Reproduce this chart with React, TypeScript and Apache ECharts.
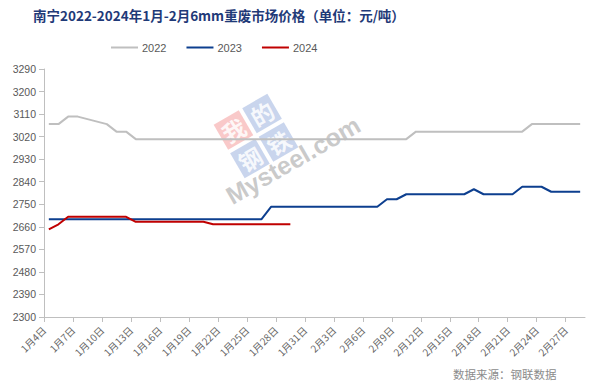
import React, { useEffect, useRef } from "react";
import * as echarts from "echarts";

const dates = [
  "1月4日", "1月5日", "1月6日", "1月7日", "1月8日", "1月9日", "1月10日", "1月11日", "1月12日", "1月13日",
  "1月14日", "1月15日", "1月16日", "1月17日", "1月18日", "1月19日", "1月20日", "1月21日", "1月22日", "1月23日",
  "1月24日", "1月25日", "1月26日", "1月27日", "1月28日", "1月29日", "1月30日", "1月31日",
  "2月1日", "2月2日", "2月3日", "2月4日", "2月5日", "2月6日", "2月7日", "2月8日", "2月9日", "2月10日",
  "2月11日", "2月12日", "2月13日", "2月14日", "2月15日", "2月16日", "2月17日", "2月18日", "2月19日", "2月20日",
  "2月21日", "2月22日", "2月23日", "2月24日", "2月25日", "2月26日", "2月27日", "2月28日",
];

const s2022 = [
  3070, 3070, 3100, 3100, 3090, 3080, 3070, 3040, 3040, 3010,
  3010, 3010, 3010, 3010, 3010, 3010, 3010, 3010, 3010, 3010,
  3010, 3010, 3010, 3010, 3010, 3010, 3010, 3010, 3010, 3010,
  3010, 3010, 3010, 3010, 3010, 3010, 3010, 3010, 3040, 3040,
  3040, 3040, 3040, 3040, 3040, 3040, 3040, 3040, 3040, 3040,
  3070, 3070, 3070, 3070, 3070, 3070,
];

const s2023 = [
  2690, 2690, 2690, 2690, 2690, 2690, 2690, 2690, 2690, 2690,
  2690, 2690, 2690, 2690, 2690, 2690, 2690, 2690, 2690, 2690,
  2690, 2690, 2690, 2740, 2740, 2740, 2740, 2740, 2740, 2740,
  2740, 2740, 2740, 2740, 2740, 2770, 2770, 2790, 2790, 2790,
  2790, 2790, 2790, 2790, 2810, 2790, 2790, 2790, 2790, 2820,
  2820, 2820, 2800, 2800, 2800, 2800,
];

const s2024 = [
  2650, 2670, 2700, 2700, 2700, 2700, 2700, 2700, 2700, 2680,
  2680, 2680, 2680, 2680, 2680, 2680, 2680, 2670, 2670, 2670,
  2670, 2670, 2670, 2670, 2670, 2670,
];

const yTicks = [2300, 2390, 2480, 2570, 2660, 2750, 2840, 2930, 3020, 3110, 3200, 3290];
const xTickIdx = [0, 3, 6, 9, 12, 15, 18, 21, 24, 27, 30, 33, 36, 39, 42, 45, 48, 51, 54];

const seriesNames = ["2022", "2023", "2024"];
const seriesColors = ["#bfbfbf", "#0d3f8f", "#c00000"];
const seriesData = [s2022, s2023, s2024];

export default function App() {
  const ref = useRef<HTMLDivElement>(null);
  useEffect(() => {
    document.body.style.margin = "0";
    if (!ref.current) return;
    const chart = echarts.init(ref.current, undefined, { renderer: "svg" });
    const axisGray = "#bfbfbf";
    const labelGray = "#595959";
    const font = "Liberation Sans, Arial, sans-serif";
    const wmText = (t: string, x: number, y: number) => ({
      type: "text",
      x,
      y,
      style: {
        text: t,
        fontSize: 23,
        fontWeight: "bold",
        fill: "rgba(255,255,255,0.85)",
        align: "center",
        verticalAlign: "middle",
        fontFamily: "Noto Sans CJK SC",
      },
    });
    chart.setOption({
      animation: false,
      backgroundColor: "#ffffff",
      title: {
        text: "南宁2022-2024年1月-2月6mm重废市场价格（单位：元/吨）",
        left: 28,
        top: 3,
        textStyle: {
          fontSize: 13.5,
          fontWeight: "bold",
          color: "#1f3a78",
          fontFamily: "Noto Sans CJK SC, sans-serif",
        },
      },
      legend: {
        left: 106,
        top: 37,
        itemWidth: 27,
        itemHeight: 2,
        itemGap: 20,
        icon: "rect",
        textStyle: { fontSize: 11, color: labelGray, fontFamily: font, padding: [0, 0, 0, -1] },
        data: seriesNames,
      },
      grid: { left: 44, right: 6, top: 69, bottom: 72 },
      xAxis: {
        type: "value",
        min: 0,
        max: 56,
        axisLine: { show: true, lineStyle: { color: axisGray } },
        axisTick: { show: true, length: 5, lineStyle: { color: axisGray }, customValues: xTickIdx },
        axisLabel: {
          customValues: xTickIdx,
          rotate: 45,
          fontSize: 10,
          color: "#666666",
          fontFamily: "Noto Sans CJK SC, sans-serif",
          margin: 11,
          formatter: (v: number) => dates[Math.round(v)] ?? "",
        },
        splitLine: { show: false },
      },
      yAxis: {
        type: "value",
        min: 2300,
        max: 3290,
        axisLine: { show: true, lineStyle: { color: axisGray } },
        axisTick: { show: true, length: 5, lineStyle: { color: axisGray }, customValues: yTicks },
        axisLabel: {
          customValues: yTicks,
          fontSize: 10.5,
          color: labelGray,
          fontFamily: font,
          margin: 8,
          formatter: (v: number) => String(v),
        },
        splitLine: { show: false },
      },
      graphic: [
        {
          type: "group",
          x: 256,
          y: 136,
          rotation: Math.PI / 6,
          z: 0,
          silent: true,
          children: [
            { type: "rect", shape: { x: -31, y: -31, width: 29, height: 29 }, style: { fill: "rgba(240,120,120,0.4)" } },
            { type: "rect", shape: { x: 2, y: -31, width: 29, height: 29 }, style: { fill: "rgba(120,150,210,0.4)" } },
            { type: "rect", shape: { x: -31, y: 2, width: 29, height: 29 }, style: { fill: "rgba(120,150,210,0.4)" } },
            { type: "rect", shape: { x: 2, y: 2, width: 29, height: 29 }, style: { fill: "rgba(120,150,210,0.4)" } },
            wmText("我", -16.5, -16.5),
            wmText("的", 16.5, -16.5),
            wmText("钢", -16.5, 16.5),
            wmText("铁", 16.5, 16.5),
          ],
        },
        {
          type: "text",
          x: 293,
          y: 160,
          rotation: Math.PI / 6,
          silent: true,
          z: 0,
          style: {
            text: "Mysteel.com",
            fontSize: 25,
            fontWeight: "bold",
            fill: "rgba(150,150,150,0.5)",
            align: "center",
            verticalAlign: "middle",
            fontFamily: "Liberation Sans, Arial, sans-serif",
          },
        },
        {
          type: "text",
          left: 453,
          top: 368,
          silent: true,
          style: {
            text: "数据来源：钢联数据",
            fontSize: 11.5,
            fill: "#8c8c8c",
            fontFamily: "Noto Sans CJK SC, sans-serif",
          },
        },
      ],
      series: seriesNames.map((name, k) => ({
        name,
        type: "line",
        symbol: "none",
        z: 3,
        lineStyle: { width: 2, color: seriesColors[k] },
        itemStyle: { color: seriesColors[k] },
        data: seriesData[k].map((v, i) => [i + 0.5, v]),
      })),
    });
    return () => chart.dispose();
  }, []);
  return <div ref={ref} style={{ width: 591, height: 389 }} />;
}
